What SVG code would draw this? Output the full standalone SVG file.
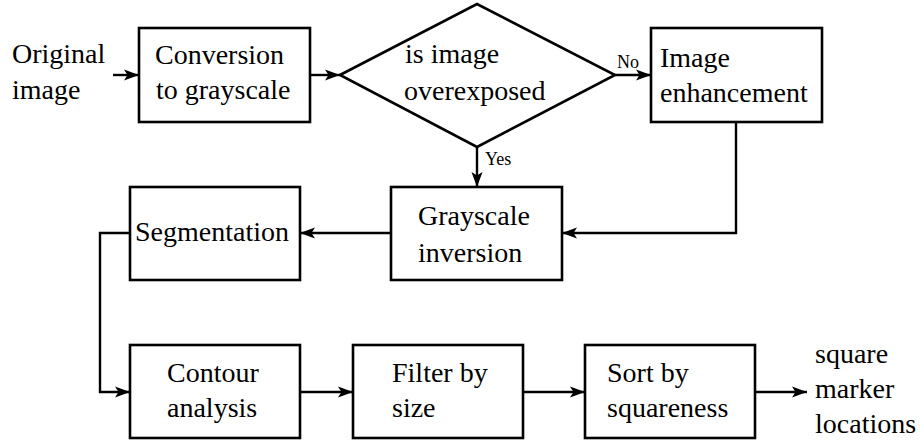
<svg xmlns="http://www.w3.org/2000/svg" width="921" height="444" viewBox="0 0 921 444">
  <style>
    .box { fill: #fff; stroke: #000; stroke-width: 2.6; }
    .wire { fill: none; stroke: #000; stroke-width: 2.4; marker-end: url(#arrow); }
  </style>
  <defs>
    <marker id="arrow" markerUnits="userSpaceOnUse" markerWidth="16" markerHeight="12" refX="15" refY="6" orient="auto">
      <path d="M0,0.5 L15,6 L0,11.5 L3.5,6 z" fill="#000"/>
    </marker>
  </defs>
  <rect width="921" height="444" fill="#fff"/>

  <!-- connectors -->
  <g id="connectors">
    <line class="wire" x1="113" y1="75" x2="139" y2="75"/>
    <line class="wire" x1="310" y1="75" x2="340" y2="75"/>
    <line class="wire" x1="615" y1="75" x2="651" y2="75"/>
    <line class="wire" x1="477" y1="147" x2="477" y2="187"/>
    <polyline class="wire" points="736,122 736,233 562,233"/>
    <line class="wire" x1="391" y1="233" x2="300" y2="233"/>
    <polyline class="wire" points="130,233 100,233 100,392 130,392"/>
    <line class="wire" x1="300" y1="392" x2="353" y2="392"/>
    <line class="wire" x1="523" y1="392" x2="585" y2="392"/>
    <line class="wire" x1="755" y1="392" x2="807" y2="392"/>
    <g font-family="Liberation Serif, serif" font-size="18" fill="#000">
      <text x="617" y="68">No</text>
      <text x="485" y="165">Yes</text>
    </g>
  </g>

  <g font-family="Liberation Serif, serif" font-size="28" fill="#000">
    <g id="input">
      <text x="12" y="63">Original</text>
      <text x="12" y="99">image</text>
    </g>

    <g id="grayscale">
      <rect class="box" x="139" y="28" width="171" height="94"/>
      <text x="155" y="64">Conversion</text>
      <text x="156" y="99">to grayscale</text>
    </g>

    <g id="decision">
      <polygon class="box" points="340,75 477,4 615,75 477,147"/>
      <text x="405" y="63">is image</text>
      <text x="404" y="100">overexposed</text>
    </g>

    <g id="enhance">
      <rect class="box" x="651" y="28" width="171" height="94"/>
      <text x="660" y="67">Image</text>
      <text x="660" y="102">enhancement</text>
    </g>

    <g id="invert">
      <rect class="box" x="391" y="187" width="171" height="93"/>
      <text x="418" y="225">Grayscale</text>
      <text x="418" y="262">inversion</text>
    </g>

    <g id="segment">
      <rect class="box" x="130" y="187" width="170" height="93"/>
      <text x="135" y="241">Segmentation</text>
    </g>

    <g id="contour">
      <rect class="box" x="130" y="345" width="170" height="93"/>
      <text x="167" y="382">Contour</text>
      <text x="167" y="417">analysis</text>
    </g>

    <g id="filter">
      <rect class="box" x="353" y="345" width="170" height="93"/>
      <text x="392" y="382">Filter by</text>
      <text x="392" y="417">size</text>
    </g>

    <g id="sort">
      <rect class="box" x="585" y="345" width="170" height="93"/>
      <text x="607" y="382">Sort by</text>
      <text x="607" y="417">squareness</text>
    </g>

    <g id="output">
      <text x="815" y="363">square</text>
      <text x="815" y="398">marker</text>
      <text x="815" y="433">locations</text>
    </g>
  </g>
</svg>
